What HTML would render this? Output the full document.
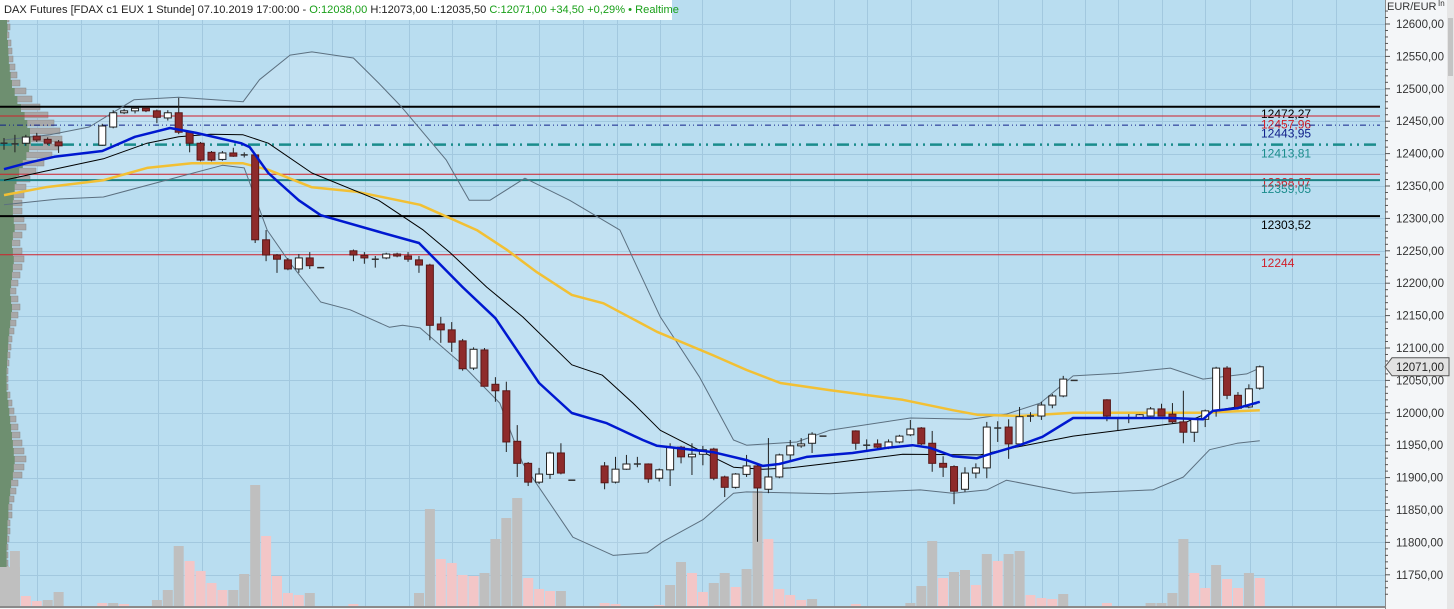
<!DOCTYPE html>
<html><head><meta charset="utf-8"><title>DAX Futures 1h</title>
<style>
html,body{margin:0;padding:0;width:1454px;height:609px;overflow:hidden;background:#f3f6f8;font-family:"Liberation Sans",sans-serif;}
#wrap{position:relative;width:1454px;height:609px;}
svg{position:absolute;left:0;top:0;}
#hdr{position:absolute;left:0;top:0;height:20px;width:672px;background:#fff;font-size:11.1px;line-height:21px;white-space:nowrap;color:#222;padding-left:4px;box-sizing:border-box;}
#hdr .g{color:#1aa01a}
</style></head>
<body>
<div id="wrap">
<svg id="chart" width="1454" height="609"></svg>
<div id="hdr">DAX Futures [FDAX c1 EUX 1 Stunde] 07.10.2019 17:00:00 - <span class="g">O:12038,00</span> H:12073,00 L:12035,50 <span class="g">C:12071,00 +34,50 +0,29% • Realtime</span></div>
</div>
<script>
// ---- data ----
const candleIdx=[0,1,2,3,4,5,9,10,11,12,13,14,15,16,17,18,19,20,21,22,23,24,25,26,27,28,29,32,33,34,35,36,37,38,39,40,41,42,43,44,45,46,47,48,49,50,51,52,55,56,57,58,59,60,61,62,63,64,65,66,67,68,69,70,71,72,73,74,75,78,79,80,81,82,83,84,85,86,87,88,89,90,91,92,93,94,95,96,97,98,101,102,103,104,105,106,107,108,109,110,111,112,113,114,115];
const opens=[12415,12415,12416,12427,12422,12418,12413,12441,12463,12466,12470,12466,12455,12463,12433,12416,12402,12391,12401,12398,12398,12267,12243.5,12236,12222,12239,12224,12250,12243,12237,12239,12245,12242,12236,12228,12137,12128,12111,12069,12097,12044,12034,11956,11922,11893,11905,11938,11896,11918,11893,11913,11921,11921,11899,11912,11947,11932,11936,11944,11901,11885,11905,11918,11882,11901,11935,11949,11953,11964,11972,11950,11952,11946,11955,11966,11976.5,11953,11922,11917,11882,11907,11915,11976.5,11978,11952,11995,11995,12012,12026,12050,12020,11992,11992,11992,11995,12006,11998,11986,11970,11990,12003,12069,12027,12009,12038];
const highs=[12424,12429,12429,12432,12425,12421,12446,12467,12469,12472,12472,12468,12467,12486,12435,12418,12404,12404,12409,12402,12400,12282,12245,12239,12245,12248,12224,12252,12248,12242,12247,12247,12248,12242,12230,12148,12140,12114,12101,12100,12055,12048,11981,11924,11915,11940,11953,11896,11924,11932,11935,11932,11922,11914,11953,11949,11953,11949,11946,11903,11907,11935,11922,11961,11937,11958,11961,11970,11964,11973,11959,11959,11959,11966,11989,11978,11972,11933,11919,11916,11922,11986,11987,11990,12009,12001,12017,12029,12057,12050,12021,11993,11998,11998,12009,12014,12015,12034,11992,12005,12071,12072,12032,12044,12073];
const lows=[12406,12402,12412,12418,12413,12401,12412,12439,12461,12462,12464,12447,12451,12430,12402,12388,12388,12389,12395,12394,12262,12234,12216,12220,12216,12222,12223,12234,12230,12224,12237,12240,12233,12216,12112,12108,12094,12065,12066,12041,12017,11939.5,11901,11887,11890,11898,11905,11896,11882,11891,11912,11916,11892,11894,11887,11922,11904,11919,11896,11870,11883,11901,11801,11876,11899,11927,11946,11938,11964,11943,11943,11945,11944,11953,11964,11950,11909,11901,11859,11878,11899,11899,11955,11929,11950,11986,11989,12007,12024,12050,11987,11973,11984,11991,11994,11998,11984,11953,11955,11978,11994,12021,12005,12007,12035.5];
const closes=[12416,12414,12425.6,12421,12416,12412,12442.6,12463,12466,12470,12466,12456,12463,12433,12416,12390,12390,12401,12396,12398,12267,12243.5,12237,12222,12239,12227,12223,12243.5,12239,12237,12245,12242,12237,12228,12135,12128,12109,12068,12098,12041,12034,11955,11922,11893,11905.5,11938,11907,11896,11892,11913,11921,11921,11898,11912,11947,11932,11936,11943,11899,11885,11905.5,11918,11884,11901,11935,11949,11952,11967,11964,11953,11950,11947,11955,11964,11975,11952,11922,11916,11879,11907,11915,11978,11976.5,11952,11994,11995,12012,12026,12052,12050,11995,11992,11992,11997,12006,11995,11986,11970,11990,12003,12069,12027,12007,12037,12071];

const volIdx=[0,1,2,3,4,5,9,10,11,14,15,16,17,18,19,20,21,22,23,24,25,26,27,28,32,38,39,40,41,42,43,44,45,46,47,48,49,50,51,55,56,60,61,62,63,64,65,66,67,68,69,70,71,72,73,74,78,83,84,85,86,87,88,89,90,91,92,93,94,95,96,97,101,105,106,107,108,109,110,111,112,113,114,115];
const volumes=[4000,5500,1000,500,600,1400,300,300,200,600,1600,6000,4500,3500,2300,1600,1600,3200,12100,7000,3000,1300,1100,1300,200,1300,9700,4700,4300,3100,3000,3300,6700,8800,10800,2800,1700,1500,1500,300,200,100,2100,4400,3300,1400,2300,3300,1900,3700,11500,6700,1700,1100,600,700,200,300,2000,6500,2800,3400,3600,2100,5200,4500,5200,5500,1100,800,700,1200,300,300,300,1300,6700,3300,1800,4100,2700,1800,3300,2800];

const blueIdx=[0,2,4.6,9,12,15.2,17.6,21.7,22.5,24.2,27,29,34.4,38,42,45,49,52,55.2,58.5,59.8,65,68,69.5,71,73.5,77.7,80.9,83.2,84.8,86.9,89.1,90,93,95.1,97.9,106.8,109.8,110.7,112.9,115];
const blueVal=[12376,12385,12395,12404,12426,12439.5,12432,12416,12410,12370,12328,12305,12279,12262,12194,12146,12046,11999.7,11984,11958,11949,11939,11927,11918,11921,11932,11938,11946,11950,11946,11933,11930,11935,11950,11963,11992,11992,11990,12003,12007,12017];
const blackIdx=[0,3.8,9.1,13.1,16,18.9,21.9,24.2,28.2,34.3,38.4,40.8,44.2,47.5,52,54.8,57.6,60.1,63.1,64.9,66.8,69.5,72,75.6,82.3,89.4,91.8,97.9,108.3,110.7,114.7];
const blackVal=[12359,12373,12392,12416,12426,12430,12429,12416,12370,12328,12282,12248,12194,12148,12074,12058,12015,11973,11947,11932,11916,11913,11915,11922,11936,11935,11944,11964,11986,12003,12014];
const orangeIdx=[0,3.8,9.1,13.1,17.2,21.9,24.2,28.2,32.3,38.1,43.3,46.1,48.8,52,54.9,59.8,64.9,68,71.1,75.6,82.3,86.9,89.1,93,97.9,109.8,115];
const orangeVal=[12336,12348,12359,12378,12385,12385,12375,12348,12341,12321,12282,12251,12217,12182,12169,12125,12089,12066,12046,12035,12020,12004,11997,11995,12000,12000,12004];
const upperIdx=[0,4.2,7.8,11.9,16,21.9,23.4,26.2,28.2,32,34.3,36.4,40.5,42.6,44.5,47.7,51.8,56.4,60.1,63.7,66.8,68,72.6,75.6,83,88.5,91.8,94.9,97.9,102.2,106.8,109.8,113.8,115];
const upperVal=[12421,12429,12441,12483,12487,12480,12514,12552,12557,12547.5,12509,12472,12390,12328,12328,12362,12328,12282,12148,12055,11958,11950,11955,11973,11992,11990,11998,12015,12057,12061,12069,12052,12060,12069];
const lowerIdx=[0,5,9.1,16,20,22,24.1,26.2,29,31.7,35.3,36.5,38.1,41.8,45.4,47.5,52.1,55.8,58.9,60.3,64,66.8,68,75.6,83.9,86.9,90,91.8,97.9,105.2,108,110.4,112.9,115];
const lowerVal=[12321,12330,12333,12364,12382,12378,12282,12231,12171,12159,12132,12135,12131,12077,12015,11922,11808,11780,11784,11801,11835,11876,11878,11875,11881,11876,11881,11896,11876,11881,11901,11943,11953,11957];

const levelVals=[12472.27,12457.96,12443.95,12413.81,12368.07,12359.05,12303.52,12244];
const levelText=["12472,27","12457,96","12443,95","12413,81","12368,07","12359,05","12303,52","12244"];
const axisTicks=[12600,12550,12500,12450,12400,12350,12300,12250,12200,12150,12100,12050,12000,11950,11900,11850,11800,11750];
const lastPrice=12071;
const profileW=[8,10,9,10,9,11,12,13,15,17,20,26,32,40,48,54,60,62,58,52,44,36,30,26,24,22,22,24,26,22,20,22,24,22,20,18,16,18,20,18,16,14,12,11,10,9,8,8,8,10,12,14,16,18,20,22,24,26,24,22,18,16,14,12,12,10,10,9,8,8,8];

// ---- scales ----
const PX0=4, STEP=10.92;
function xS(i){return PX0+i*STEP;}
function yS(p){return 24+(12600-p)*0.648;}
const VBASE=606;
function vS(v){return v*0.01;}
const NS="http://www.w3.org/2000/svg";
const svg=document.getElementById('chart');
function mk(tag,attrs,parent){const e=document.createElementNS(NS,tag);for(const k in attrs)e.setAttribute(k,attrs[k]);(parent||svg).appendChild(e);return e;}
const PR=1385;

let bg=mk('rect',{x:0,y:0,width:PR,height:607,fill:'#b9ddf0'});


let ax=mk('rect',{x:PR,y:0,width:69,height:609,fill:'#f4f6f8'});


mk('rect',{x:1447,y:0,width:7,height:609,fill:'#e6e6e6'});
let sb=mk('rect',{x:1448,y:18,width:5,height:58,fill:'#c4c4c4'});



const gGrid=mk('g',{stroke:'#a2c8df','stroke-width':1});


const gridX=[37,81,158,202,289,332,365,409,452,496,539,583,617,660,702,790,834,867,911,998,1042,1085,1118,1162,1205,1250,1292,1336];
gridX.forEach(x=>mk('line',{x1:x+.5,y1:0,x2:x+.5,y2:607},gGrid));
for(let p=12600;p>=11700;p-=50){const y=Math.round(yS(p))+.5;mk('line',{x1:0,y1:y,x2:PR,y2:y},gGrid);}

function pts(idx,val){return idx.map((i,k)=>xS(i).toFixed(1)+','+yS(val[k]).toFixed(1));}
let band=mk('polygon',{points:pts(upperIdx,upperVal).concat(pts(lowerIdx,lowerVal).reverse()).join(' '),fill:'#ffffff','fill-opacity':0.13});



const gVol=mk('g',{});


volIdx.forEach((i,k)=>{
  const v=volumes[k], up=k===0||v>=volumes[k-1];
  const h=vS(v);
  const r=mk('rect',{x:(xS(i)-5).toFixed(1),y:(VBASE-h).toFixed(1),width:10,height:h.toFixed(1),fill:up?'#bfbfbf':'#f3c6c7'},gVol);
  
  
});

const gProf=mk('g',{});


profileW.forEach((w,k)=>{mk('rect',{x:0,y:k*8,width:w,height:6,fill:'#a8a8a8',stroke:'#8a8a8a','stroke-width':0.5},gProf);});
let gp=[];profileW.forEach((w,k)=>{gp.push((Math.min(w*0.45,28)+3)+','+(k*8));gp.push((Math.min(w*0.45,28)+3)+','+(k*8+8));});
mk('polygon',{points:'0,0 '+gp.join(' ')+' 0,567',fill:'#6e8f70'},gProf);
mk('rect',{x:0,y:567,width:20,height:39,fill:'#bfbfbf'},gProf);

const lvStyle=[
 {c:'#000',w:2,d:''},{c:'#d0202a',w:1,d:''},{c:'#10208a',w:1,d:'6 3 1 3 1 3'},{c:'#1a8c8c',w:2.5,d:'12 5 2 5 2 5'},
 {c:'#d0202a',w:1,d:''},{c:'#1a8080',w:2,d:''},{c:'#000',w:2,d:''},{c:'#d0202a',w:1,d:''}];
const lvText=['#000','#d0202a','#10208a','#1a8c8c','#d0202a','#1a8c8c','#000','#d0202a'];
const lvOff=[11,12.5,12.5,13,12,13,13,12.5];
const gLv=mk('g',{});


levelVals.forEach((v,k)=>{
  const y=yS(v);const s=lvStyle[k];
  const l=mk('line',{x1:0,y1:y,x2:1380,y2:y,stroke:s.c,'stroke-width':s.w,'stroke-dasharray':s.d},gLv);
  
  
  const t=mk('text',{x:1261,y:y+lvOff[k],fill:lvText[k],'font-size':12,'font-family':'Liberation Sans, sans-serif'},gLv);
  t.textContent=levelText[k];
  
  
});

function line(idx,val,color,w,name){
  const p=mk('polyline',{points:pts(idx,val).join(' '),fill:'none',stroke:color,'stroke-width':w,'stroke-linejoin':'round'});
  
  
}
line(upperIdx,upperVal,'#5c7080',1,'bollinger-upper');
line(lowerIdx,lowerVal,'#5c7080',1,'bollinger-lower');
line(orangeIdx,orangeVal,'#f2c034',2.5,'ma-orange');
line(blackIdx,blackVal,'#000',1,'ma-black');

const gC=mk('g',{});


candleIdx.forEach((i,k)=>{
  const x=xS(i),o=opens[k],c=closes[k],h=highs[k],l=lows[k];
  const g=mk('g',{},gC);
  
  
  mk('line',{x1:x,y1:yS(h),x2:x,y2:yS(l),stroke:'#202020','stroke-width':1},g);
  const top=yS(Math.max(o,c)),bot=yS(Math.min(o,c));
  const bh=Math.max(bot-top,1);
  if(bh<=1.5){mk('line',{x1:x-3.5,y1:top,x2:x+3.5,y2:top,stroke:'#303030','stroke-width':1.5},g);}
  else mk('rect',{x:x-3.5,y:top,width:7,height:bh,fill:c>=o?'#ffffff':'#8e2b2b',stroke:c>=o?'#222':'#5a1818','stroke-width':1},g);
});
line(blueIdx,blueVal,'#0018d0',2.5,'ma-blue');

mk('line',{x1:0,y1:607,x2:PR,y2:607,stroke:'#8a8a8a','stroke-width':2});
mk('line',{x1:PR+.5,y1:0,x2:PR+.5,y2:609,stroke:'#8a8a8a','stroke-width':1});

const gAx=mk('g',{});


for(let p=12620;p>=11720;p-=10){const y=yS(p);mk('line',{x1:PR,y1:y,x2:PR+(p%50===0?5:3),y2:y,stroke:'#555','stroke-width':1},gAx);}
axisTicks.forEach(p=>{
  const t=mk('text',{x:1396,y:yS(p)+4,'font-size':11.5,fill:'#333','font-family':'Liberation Sans, sans-serif'},gAx);
  t.textContent=p.toFixed(2).replace('.',',');
  
  
});
let cur=mk('text',{x:1387,y:10,'font-size':11,fill:'#333','font-family':'Liberation Sans, sans-serif'});
cur.textContent='EUR/EUR';


let inl=mk('text',{x:1438,y:6,'font-size':8,fill:'#333','font-family':'Liberation Sans, sans-serif'});
inl.textContent='In';


const ly=yS(lastPrice);
let lp=mk('polygon',{points:`${PR},${ly} ${PR+7},${ly-9} ${PR+64},${ly-9} ${PR+64},${ly+9} ${PR+7},${ly+9}`,fill:'#e2e2e2',stroke:'#555','stroke-width':1});


let lt=mk('text',{x:1396,y:ly+4,'font-size':11.5,fill:'#222','font-family':'Liberation Sans, sans-serif'});
lt.textContent=lastPrice.toFixed(2).replace('.',',');


</script>
</body></html>
